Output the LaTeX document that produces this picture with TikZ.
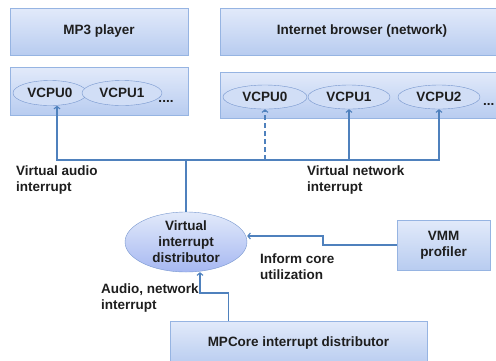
\documentclass[tikz,border=0pt]{standalone}
\usepackage{fontspec}
\setmainfont{Liberation Sans}
\usepackage{tikz}
\usetikzlibrary{arrows.meta,positioning,shadows,shapes.geometric}
\definecolor{boxtop}{RGB}{226,234,250}
\definecolor{boxbot}{RGB}{184,204,240}
\definecolor{boxline}{RGB}{150,180,226}
\definecolor{ovalline}{RGB}{118,150,206}
\definecolor{wire}{RGB}{79,129,189}
\definecolor{ink}{RGB}{30,30,30}

\begin{document}
\begin{tikzpicture}[
  x=1pt,y=-1pt,
  font=\fontsize{13.5}{16}\selectfont\bfseries,text=ink,
  box/.style={draw=boxline,top color=boxtop,bottom color=boxbot,align=center,
              inner sep=0pt,drop shadow={opacity=0.18,shadow xshift=1.2pt,shadow yshift=-1.2pt}},
  vcpu/.style={ellipse,draw=ovalline,fill=boxtop!60!boxbot,inner sep=0pt,
               minimum height=25pt},
  dist/.style={ellipse,draw=ovalline,top color=boxtop,bottom color=boxbot!90!blue,
               align=center,inner sep=0pt,minimum width=122pt,minimum height=60pt},
  lbl/.style={align=left,anchor=north west,inner sep=0pt},
  line/.style={draw=wire,line width=1.1pt},
  arrow/.style={line,-{Straight Barb[length=2.5pt,width=6pt]}}
]
\useasboundingbox (0,0) rectangle (496,360);
% application layer
\node[box,minimum width=178pt,minimum height=47pt] (mp3) at (99,31.5) {MP3 player};
\node[box,minimum width=284pt,minimum height=47pt] (web) at (362,31.5) {Internet browser (network)};
% virtual cpus
\node[box,minimum width=178pt,minimum height=48pt] (mp3cpu) at (99,91) {};
\node[box,minimum width=284pt,minimum height=46pt] (webcpu) at (362,95) {};
\node[vcpu,minimum width=74pt] (mA0) at (50,93) {VCPU0};
\node[vcpu,minimum width=80pt] (mA1) at (122,93) {VCPU1};
\node[inner sep=0pt] (mdots) at (166,101) {....};
\node[vcpu,minimum width=84pt,minimum height=24pt] (nA0) at (265,97) {VCPU0};
\node[vcpu,minimum width=82pt,minimum height=24pt] (nA1) at (349,97) {VCPU1};
\node[vcpu,minimum width=82pt,minimum height=24pt] (nA2) at (439,97) {VCPU2};
\node[inner sep=0pt,anchor=west] (ndots) at (483,104) {...};
% interrupt path
\node[dist] (vid) at (186,242) {Virtual\\interrupt\\distributor};
\node[box,minimum width=93pt,minimum height=50pt] (vmm) at (443.5,245) {VMM\\profiler};
\node[box,minimum width=257pt,minimum height=44pt] (mpcore) at (298.5,343) {MPCore interrupt distributor};
\coordinate (bus) at (186,160);
\coordinate (informbend) at (323,236);
\coordinate (audiobend) at (200,293);
\draw[line] (vid) -- (bus);
\draw[arrow] (bus) -| ([xshift=7pt]mA0.south);
\draw[arrow] (bus) -| (nA2.south);
\draw[arrow] (bus -| nA1) -- (nA1.south);
\draw[arrow,dashed,dash pattern=on 5pt off 3pt] (bus -| nA0) -- (nA0.south);
\draw[arrow] (vmm.west) -| (informbend) -- (vid.east |- informbend);
\draw[arrow] ([xshift=-70pt]mpcore.north) |- (audiobend) -- (audiobend |- vid.south);
% labels
\node[lbl] (audiolbl) at (16,166) {Virtual audio\\interrupt};
\node[lbl] (netlbl) at (307,166) {Virtual network\\interrupt};
\node[lbl] (informlbl) at (260,254) {Inform core\\utilization};
\node[lbl] (irqlbl) at (101,284) {Audio, network\\interrupt};
\end{tikzpicture}
\end{document}
